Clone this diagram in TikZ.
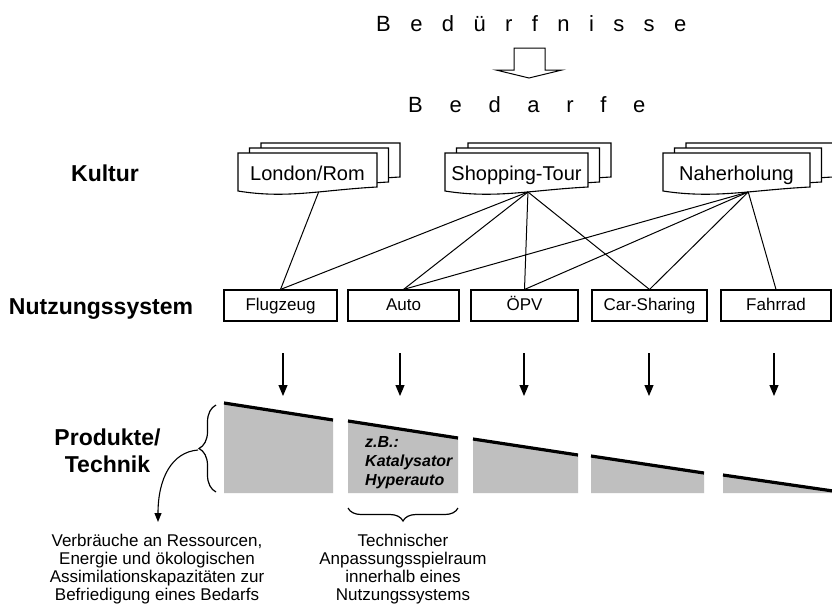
\documentclass[tikz,border=0pt]{standalone}
\usepackage{fontspec}
\setmainfont{Liberation Sans}
\usetikzlibrary{arrows.meta,decorations.pathreplacing,calc}
\tikzset{
  sysbox/.style={draw, line width=1.1pt, minimum height=31pt, inner sep=0pt, text height=13pt, text depth=3pt, font=\fontsize{17}{20}\selectfont},
  doclabel/.style={inner sep=0pt, text height=18pt, text depth=2pt, font=\fontsize{20}{24}\selectfont},
  docline/.style={fill=white, line width=1.1pt},
  heading/.style={inner sep=0pt, font=\fontsize{23}{27}\selectfont\bfseries},
  spaced/.style={inner sep=0pt, font=\fontsize{22}{26}\selectfont},
  link/.style={line width=1pt},
  downarrow/.style={line width=1.1pt, -{Triangle[width=9pt,length=11pt]}},
  curvearrow/.style={line width=1.1pt, -{Triangle[width=7pt,length=9pt]}},
  techfill/.style={fill=black!25},
  techtop/.style={line width=3.2pt},
  bracedeco/.style={line width=1.2pt, decorate},
  note/.style={inner sep=0pt, align=center, font=\fontsize{17}{18.3}\selectfont},
  example/.style={inner sep=0pt, align=left, font=\fontsize{16}{19}\selectfont\bfseries\itshape},
}
\newcommand{\docstack}[4]{%
  \begin{scope}[shift={(#2,153)}]
    \foreach \ox/\oy in {23/-10,11.5/-5,0/0}{
      \filldraw[docline] (\ox,\oy+38) -- (\ox,\oy) -- (\ox+#3,\oy) -- (\ox+#3,\oy+34)
        .. controls (\ox+0.6*#3,\oy+37) and (\ox+0.35*#3,\oy+46) .. (\ox,\oy+38) -- cycle;
    }
    \node[doclabel] (#1) at (#3/2,19) {#4};
    \coordinate (#1b) at (0.58*#3,39);
  \end{scope}}
\begin{document}
\begin{tikzpicture}[x=1pt,y=-1pt]
\fill[white] (0,0) rectangle (832,606);
\useasboundingbox (0,0) rectangle (832,606);

% top texts
\node[spaced, anchor=base west] (bed) at (376,31) {\spaceskip=19.4pt B e d ü r f n i s s e};
\draw[line width=1pt, fill=white] (514,48) -- (545,48) -- (545,70) -- (562,70) -- (529,78) -- (496,70) -- (514,70) -- cycle;
\node[spaced, anchor=base west] (bedarf) at (408,112) {\spaceskip=26.7pt B e d a r f e};

% row headings
\node[heading, anchor=base] (kultur) at (105,181) {Kultur};
\node[heading, anchor=base] (nutz) at (101,314) {Nutzungssystem};
\node[heading, align=center, anchor=north] (prod) at (107.5,429) {Produkte/\\Technik};

% culture documents
\docstack{lon}{238}{139}{London/Rom}
\docstack{shop}{445}{143}{Shopping-Tour}
\docstack{naher}{663}{147}{Naherholung}

% usage systems
\node[sysbox, minimum width=113pt] (flug) at (280.5,305.5) {Flugzeug};
\node[sysbox, minimum width=111pt] (auto) at (403.5,305.5) {Auto};
\node[sysbox, minimum width=107pt] (opv) at (524.5,305.5) {ÖPV};
\node[sysbox, minimum width=115pt] (cars) at (649.5,305.5) {Car-Sharing};
\node[sysbox, minimum width=110pt] (fahr) at (776,305.5) {Fahrrad};

% links
\draw[link] (lonb) -- (flug.north);
\draw[link] (shopb) -- (flug.north);
\draw[link] (shopb) -- (auto.north);
\draw[link] (shopb) -- (opv.north);
\draw[link] (shopb) -- (cars.north);
\draw[link] (naherb) -- (auto.north);
\draw[link] (naherb) -- (opv.north);
\draw[link] (naherb) -- (cars.north);
\draw[link] (naherb) -- (fahr.north);

% down arrows
\foreach \n/\xx in {1/283,2/400,3/524,4/649,5/774}{
  \coordinate (ds\n) at (\xx,353);
  \coordinate (de\n) at (\xx,396);
}
\foreach \n in {1,...,5}{\draw[downarrow] (ds\n) -- (de\n);}

% technology trapezoids
\foreach \l/\r/\tl/\tr in {224/333/403/420, 348/458/421/438, 473/578/439/455, 591/704/456/473, 723/833/475/491}{
  \fill[techfill] (\l,\tl) -- (\r,\tr) -- (\r,493) -- (\l,493) -- cycle;
  \draw[techtop] (\l,\tl) -- (\r,\tr);
}
\node[example, anchor=north west] (zb) at (365,436.5) {z.B.:\\Katalysator\\Hyperauto};

% braces
\draw[bracedeco, decoration={brace, amplitude=17pt}] (216,492) -- (216,405);
\draw[bracedeco, decoration={brace, amplitude=13pt}] (458,508) -- (348,508);

% curved arrow to consumption note
\coordinate (bracetip) at (198,450);
\coordinate (verbtop) at (158,522);
\draw[curvearrow] (bracetip) .. controls (172,452) and (158,478) .. (verbtop);

% notes
\node[note, anchor=north] (verb) at (157,533.5) {Verbräuche an Ressourcen,\\Energie und ökologischen\\Assimilationskapazitäten zur\\Befriedigung eines Bedarfs};
\node[note, anchor=north] (tech) at (403,533.5) {Technischer\\Anpassungsspielraum\\innerhalb eines\\Nutzungssystems};
\end{tikzpicture}
\end{document}
